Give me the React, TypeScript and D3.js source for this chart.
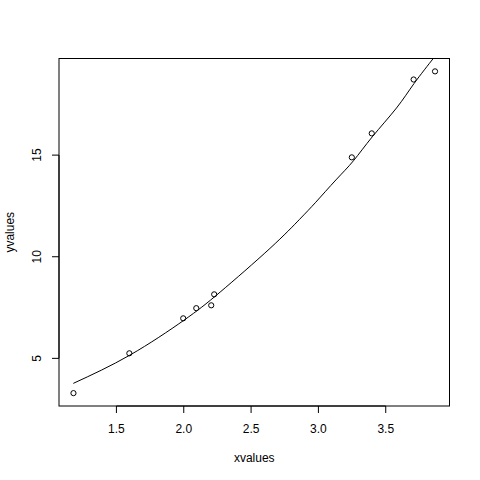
import React from "react";
import * as d3 from "d3";

// observed points
const xValues = [1.181, 1.596, 1.996, 2.093, 2.204, 2.226, 3.248, 3.396, 3.707, 3.866];
const yValues = [3.29, 5.25, 6.97, 7.47, 7.61, 8.15, 14.89, 16.07, 18.72, 19.12];

// fitted curve
const fitX = [1.18, 1.6, 2.0, 2.27, 2.64, 2.86, 2.98, 3.13, 3.26, 3.4, 3.58, 3.71, 3.85, 3.87];
const fitY = [3.77, 5.16, 6.87, 8.26, 10.41, 11.84, 12.68, 13.78, 14.72, 15.9, 17.32, 18.52, 19.73, 19.9];

const xTicks = [1.5, 2.0, 2.5, 3.0, 3.5];
const yTicks = [5, 10, 15];

const W = 480;
const H = 480;
const box = { left: 59, right: 449.5, top: 58.5, bottom: 406 };
const font = "'Liberation Sans', Arial, sans-serif";

export default function App() {
  // R-style 4% padding on each side of the data range
  const [x0, x1] = d3.extent(xValues) as [number, number];
  const [y0, y1] = d3.extent(yValues) as [number, number];
  const px = (x1 - x0) * 0.04;
  const py = (y1 - y0) * 0.04;

  const xScale = d3.scaleLinear().domain([x0 - px, x1 + px]).range([box.left, box.right]);
  const yScale = d3.scaleLinear().domain([y0 - py, y1 + py]).range([box.bottom, box.top]);

  const fit = fitX.map((x, i) => [x, fitY[i]] as [number, number]);
  const line = d3.line<[number, number]>()
    .curve(d3.curveNatural)
    .x(d => xScale(d[0]))
    .y(d => yScale(d[1]));

  const tick = 7;

  return (
    <svg
      width={W}
      height={H}
      style={{ position: "absolute", left: 0, top: 0, background: "#fff" }}
      fontFamily={font}
      fontSize={12}
    >
      <defs>
        <clipPath id="plot-clip">
          <rect x={box.left} y={box.top} width={box.right - box.left} height={box.bottom - box.top} />
        </clipPath>
      </defs>

      {/* points */}
      {xValues.map((x, i) => (
        <circle
          key={i}
          cx={xScale(x)}
          cy={yScale(yValues[i])}
          r={2.6}
          fill="none"
          stroke="#000"
          strokeWidth={1}
        />
      ))}

      {/* fitted curve */}
      <path d={line(fit) ?? ""} fill="none" stroke="#000" strokeWidth={1} clipPath="url(#plot-clip)" />

      {/* frame */}
      <rect
        x={box.left}
        y={box.top}
        width={box.right - box.left}
        height={box.bottom - box.top}
        fill="none"
        stroke="#000"
        strokeWidth={1}
      />

      {/* x axis */}
      <line
        x1={xScale(xTicks[0])}
        x2={xScale(xTicks[xTicks.length - 1])}
        y1={box.bottom}
        y2={box.bottom}
        stroke="#000"
      />
      {xTicks.map(t => (
        <g key={t} transform={`translate(${xScale(t)},${box.bottom})`}>
          <line y2={tick} stroke="#000" />
          <text y={27} textAnchor="middle" fill="#000">{t.toFixed(1)}</text>
        </g>
      ))}

      {/* y axis */}
      <line
        x1={box.left}
        x2={box.left}
        y1={yScale(yTicks[0])}
        y2={yScale(yTicks[yTicks.length - 1])}
        stroke="#000"
      />
      {yTicks.map(t => (
        <g key={t} transform={`translate(${box.left},${yScale(t)})`}>
          <line x2={-tick} stroke="#000" />
          <text transform="translate(-18,0) rotate(-90)" textAnchor="middle" fill="#000">{t}</text>
        </g>
      ))}

      {/* axis titles */}
      <text x={(box.left + box.right) / 2} y={462} textAnchor="middle" fill="#000">xvalues</text>
      <text
        transform={`translate(14,${(box.top + box.bottom) / 2}) rotate(-90)`}
        textAnchor="middle"
        fill="#000"
      >
        yvalues
      </text>
    </svg>
  );
}
